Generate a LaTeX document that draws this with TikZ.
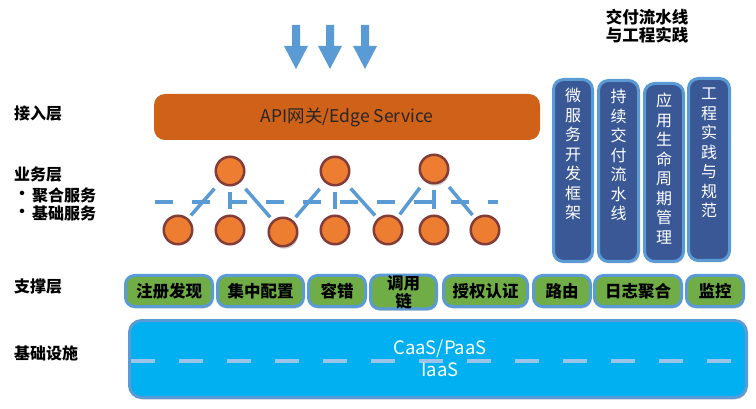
\documentclass[tikz,border=0pt]{standalone}
\usepackage{fontspec}
\setmainfont{Noto Sans CJK SC}
\usetikzlibrary{shadows}
\definecolor{gateO}{HTML}{D06119}
\definecolor{circF}{HTML}{ED7D31}
\definecolor{circB}{HTML}{843C39}
\definecolor{lineB}{HTML}{5B9BD5}
\definecolor{vboxF}{HTML}{3A5896}
\definecolor{supG}{HTML}{70AD47}
\definecolor{infraC}{HTML}{00B0F0}
\definecolor{infraD}{HTML}{9DC3E6}
\definecolor{txtD}{HTML}{262626}
\begin{document}
\begin{tikzpicture}[x=1pt,y=-1pt,
  lbl/.style={font=\bfseries\fontsize{16}{18}\selectfont, anchor=west, inner sep=0},
  svc/.style={circle, draw=circB, fill=circF, line width=2.5pt, minimum size=28.5pt, inner sep=0},
  svcsh/.style={svc, drop shadow={opacity=0.35, shadow xshift=1pt, shadow yshift=-2.5pt}},
  link/.style={draw=lineB, line width=3.5pt, shorten <=8pt, shorten >=4pt},
  vlink/.style={draw=lineB, line width=3.5pt, shorten <=6pt, shorten >=5pt},
  supbox/.style={draw=lineB, fill=supG, line width=3pt, rounded corners=9pt, inner sep=0,
    minimum height=31pt, align=center,
    font=\bfseries\fontsize{16.5}{18}\selectfont,
    drop shadow={opacity=0.3, shadow xshift=0.5pt, shadow yshift=-2pt}},
  vbox/.style={draw=lineB, fill=vboxF, line width=3pt, rounded corners=10pt, inner sep=0,
    drop shadow={opacity=0.3, shadow xshift=1pt, shadow yshift=-2pt}},
  vtext/.style={text=white, align=center, inner sep=0, anchor=north,
    font=\fontsize{16}{19.5}\selectfont},
  arrowc/.style={fill=lineB, draw=none}
]
\useasboundingbox (0,0) rectangle (756,409);

% arrows at top
\foreach \ax in {296,330,365}{
  \fill[arrowc] (\ax-4,25) -- (\ax+4,25) -- (\ax+4,46) -- (\ax+12,46) -- (\ax,69)
     -- (\ax-12,46) -- (\ax-4,46) -- cycle;
}

% title
\node[font=\bfseries\fontsize{16.5}{18.5}\selectfont, align=center, inner sep=0] (title) at (647,26)
  {交付流水线\\与工程实践};

% left labels
\node[lbl] (l1) at (14,113) {接入层};
\node[lbl] (l2) at (14,175) {业务层};
\node[lbl] (l2a) at (14,195) {•};
\node[lbl] (l2b) at (32,195) {聚合服务};
\node[lbl] (l2c) at (14,213) {•};
\node[lbl] (l2d) at (32,213) {基础服务};
\node[lbl] (l3) at (14,287) {支撑层};
\node[lbl] (l4) at (14,353) {基础设施};

% gateway
\node[fill=gateO, rounded corners=11pt, minimum width=386pt, minimum height=46pt,
  text=txtD, font=\fontsize{17.5}{20}\selectfont, inner sep=0] (gw) at (347,117)
  {API网关/Edge Service};

% business layer dashed line
\coordinate (d1) at (155,202);
\coordinate (d2) at (498,202);
\draw[lineB, line width=4pt, dash pattern=on 18pt off 19pt] (d1) -- (d2);

% services
\node[svc] (t1) at (230,171) {};
\node[svc] (t2) at (335,171) {};
\node[svcsh] (t3) at (434,169) {};
\node[svc] (b1) at (178,230) {};
\node[svc] (b2) at (230,230) {};
\node[svcsh] (b3) at (283,232) {};
\node[svc] (b4) at (335,230) {};
\node[svc] (b5) at (388,230) {};
\node[svc] (b6) at (434,230) {};
\node[svc] (b7) at (485,230) {};

\draw[link] (t1) -- (b1);
\draw[vlink] (t1) -- (b2);
\draw[link] (t1) -- (b3);
\draw[link] (t2) -- (b3);
\draw[vlink] (t2) -- (b4);
\draw[link] (t2) -- (b5);
\draw[link] (t3) -- (b5);
\draw[vlink] (t3) -- (b6);
\draw[link] (t3) -- (b7);

% vertical boxes
\node[vbox, minimum width=39pt, minimum height=182pt] (v1) at (573,170.5) {};
\node[vbox, minimum width=40pt, minimum height=181pt] (v2) at (618.5,171) {};
\node[vbox, minimum width=39pt, minimum height=178pt] (v3) at (664,172.5) {};
\node[vbox, minimum width=41pt, minimum height=182pt] (v4) at (709,169.5) {};
\node[vtext] (v1t) at (573,88) {微\\服\\务\\开\\发\\框\\架};
\node[vtext] (v2t) at (618.5,89) {持\\续\\交\\付\\流\\水\\线};
\node[vtext] (v3t) at (664,93) {应\\用\\生\\命\\周\\期\\管\\理};
\node[vtext] (v4t) at (709,88) {工\\程\\实\\践\\与\\规\\范};

% support layer
\node[supbox, minimum width=87pt] (s1) at (169,291) {注册发现};
\node[supbox, minimum width=86pt] (s2) at (260.5,291) {集中配置};
\node[supbox, minimum width=57pt] (s3) at (337,291) {容错};
\node[supbox, minimum width=66pt, minimum height=32pt] (s4) at (403.5,292) {调用\\链};
\node[supbox, minimum width=84pt] (s5) at (485.5,291) {授权认证};
\node[supbox, minimum width=57pt] (s6) at (562,291) {路由};
\node[supbox, minimum width=87pt] (s7) at (638,291) {日志聚合};
\node[supbox, minimum width=57pt] (s8) at (715,291) {监控};

% infrastructure
\node[draw=lineB, fill=infraC, line width=3pt, rounded corners=12pt,
  minimum width=617pt, minimum height=77pt, inner sep=0,
  drop shadow={opacity=0.3, shadow xshift=1pt, shadow yshift=-2pt}] (infra) at (438,359) {};
\coordinate (i1) at (131,361);
\coordinate (i2) at (746,361);
\draw[infraD, line width=4pt, dash pattern=on 24pt off 24pt] (i1) -- (i2);
\node[text=white, font=\fontsize{18.5}{20}\selectfont, inner sep=0] (caas) at (440,349) {CaaS/PaaS};
\node[text=white, font=\fontsize{18.5}{20}\selectfont, inner sep=0] (iaas) at (440,370) {IaaS};
\end{tikzpicture}
\end{document}
